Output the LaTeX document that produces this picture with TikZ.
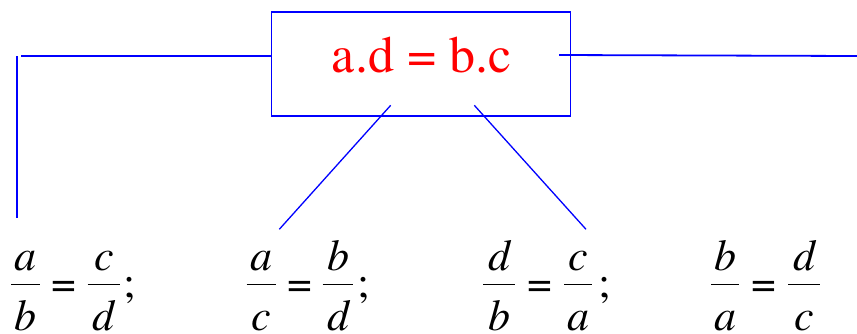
\documentclass[tikz,border=0pt]{standalone}
\usepackage{fontspec}
\newfontfamily\tmsfont{texgyretermes}[Extension=.otf,UprightFont=*-regular,ItalicFont=*-italic]
\usetikzlibrary{calc}
\begin{document}
\begin{tikzpicture}[x=1pt,y=-1pt,
  bline/.style={draw=blue,line width=1.8pt},
  dline/.style={draw=blue,line width=1.3pt},
  fbar/.style={draw=black,line width=1.8pt},
  ftxt/.style={inner sep=0pt,anchor=base,font=\tmsfont\fontsize{44}{50}\selectfont\itshape},
  fsym/.style={inner sep=0pt,anchor=base,font=\tmsfont\fontsize{44}{50}\selectfont}]
\useasboundingbox (0,0) rectangle (857,333);
% box
\node[bline,minimum width=299pt,minimum height=104pt,inner sep=0pt] (box) at (421,63.7) {};
\node[inner sep=0pt,anchor=base,text=red,font=\tmsfont\fontsize{52}{60}\selectfont] (eq) at (421.7,72) {a.d = b.c};
% connectors
\coordinate (L1) at (21,56);
\draw[bline] (L1) -- (L1 -| box.west);
\coordinate (V1) at (17,56);
\coordinate (V2) at (17,218);
\draw[bline] (V1) -- (V2);
\coordinate (R1) at (559,55);
\coordinate (R2) at (857,56);
\draw[bline] (R1) -- (R2);
\coordinate (D1a) at (390.7,105.3);
\coordinate (D1b) at (279.3,229.3);
\draw[dline] (D1a) -- (D1b);
\coordinate (D2a) at (474.3,105.3);
\coordinate (D2b) at (586,229.3);
\draw[dline] (D2a) -- (D2b);
% fractions: name, left x, right x, numerator, denominator
\foreach \nm/\xa/\xb/\nu/\de in {f1/11/40/a/b, f2/87.7/120/c/d, f3/246.7/275.7/a/c, f4/322.7/353.3/b/d,
  f5/483.3/515/d/b, f6/564/592/c/a, f7/711/739/b/a, f8/788/820/d/c}{
  \coordinate (\nm l) at (\xa,284.5);
  \coordinate (\nm r) at (\xb,284.5);
  \draw[fbar] (\nm l) -- (\nm r);
  \node[ftxt] (\nm n) at ($(\nm l)!0.5!(\nm r)+(0,-14.5)$) {\nu};
  \node[ftxt] (\nm d) at ($(\nm l)!0.5!(\nm r)+(0,45.5)$) {\de};
}
\foreach \nm/\x in {e1/64, e2/299.5, e3/540, e4/764}{
  \node[fsym] (\nm) at (\x,297) {=};
}
\foreach \nm/\x in {s1/130, s2/364, s3/605}{
  \node[fsym] (\nm) at (\x,297) {;};
}
\end{tikzpicture}
\end{document}
